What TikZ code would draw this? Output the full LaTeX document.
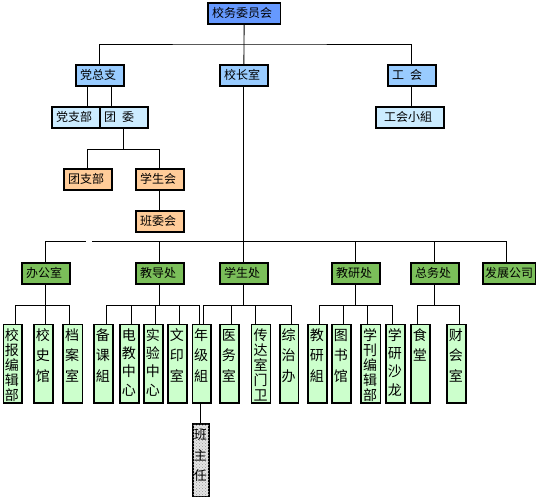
\documentclass[tikz,border=0pt]{standalone}
\usepackage{fontspec}
\newfontfamily\cjk{Noto Sans CJK SC}
\usetikzlibrary{patterns}
\definecolor{cTop}{HTML}{6699FF}
\definecolor{cMid}{HTML}{99CCFF}
\definecolor{cLow}{HTML}{CCECFF}
\definecolor{cOrg}{HTML}{FFCC99}
\definecolor{cGrn}{HTML}{7BBF5A}
\definecolor{cPale}{HTML}{CCFFCC}
\newcommand\vcol[5]{%
  \node[vb,minimum width=#3pt] (#1) at (#2,324) {};
  \foreach \c [count=\i] in {#5} {\node[ch] (#1-\i) at ({#2+#3/2},{335+(\i-1)*#4+5.3}) {\c};}
}
\begin{document}
\begin{tikzpicture}[x=1pt,y=-1pt,
  hb/.style={draw=black,line width=1.2pt,inner sep=0pt,minimum height=21pt,minimum width=48pt,
    text width=39.6pt,align=left,anchor=north west,font=\cjk\fontsize{12}{12}\selectfont,
    text height=10.56pt,text depth=1.44pt},
  ln/.style={line width=0.9pt,draw=black},
  vb/.style={draw=black,line width=1.2pt,fill=cPale,inner sep=0pt,minimum height=78.3pt,anchor=north west},
  ch/.style={inner sep=0pt,anchor=base,font=\cjk\fontsize{14}{14}\selectfont},
  chs/.style={inner sep=0pt,anchor=base,font=\cjk\fontsize{13}{13}\selectfont},
]
\useasboundingbox (0,0) rectangle (538,499);

% level 1-4
\node[hb,fill=cTop,minimum width=72.4pt,text width=64pt] (xw) at (207.3,2.3) {校务委员会};
\node[hb,fill=cMid] (dzz) at (75.3,64.3) {党总支};
\node[hb,fill=cMid] (xzs) at (219.3,64.3) {校长室};
\node[hb,fill=cMid] (gh) at (387.3,64.3) {工\hspace{6pt}会};
\node[hb,fill=cLow] (dzb) at (51.3,106.3) {党支部};
\node[hb,fill=cLow] (tw) at (99.3,106.3) {团\hspace{6pt}委};
\node[hb,fill=cLow,minimum width=68pt,text width=51.8pt] (ghx) at (375.3,106.3) {工会小組};
\node[hb,fill=cOrg] (tzb) at (63.3,168.3) {团支部};
\node[hb,fill=cOrg] (xsh) at (135.3,168.3) {学生会};
\node[hb,fill=cOrg] (bwh) at (135.3,210.3) {班委会};

% level 5
\node[hb,fill=cGrn] (bgs) at (21.3,262.3) {办公室};
\node[hb,fill=cGrn] (jdc) at (135.3,262.3) {教导处};
\node[hb,fill=cGrn] (xsc) at (219.3,262.3) {学生处};
\node[hb,fill=cGrn] (jyc) at (331.3,262.3) {教研处};
\node[hb,fill=cGrn] (zwc) at (410.3,262.3) {总务处};
\node[hb,fill=cGrn,minimum width=52.4pt,text width=48.2pt] (fzgs) at (482.3,262.3) {发展公司};

% level 6
\vcol{xbb}{2.7}{18.6}{15}{校,报,编,辑,部}
\vcol{xsg}{33.3}{19}{20.5}{校,史,馆}
\vcol{das}{62.3}{19.4}{20.5}{档,案,室}
\vcol{bkz}{93.3}{19}{20.5}{备,课,組}
\vcol{djzx}{119.3}{19}{18.3}{电,教,中,心}
\vcol{syzx}{143.3}{19}{18.3}{实,验,中,心}
\vcol{wys}{167.3}{19}{20.5}{文,印,室}
\vcol{njz}{191.7}{18.6}{20.5}{年,级,組}
\vcol{yws}{219.3}{19}{20.5}{医,务,室}
\vcol{cds}{251}{19}{15}{传,达,室,门,卫}
\vcol{zzb}{279.3}{18.7}{20.5}{综,治,办}
\vcol{jyz}{307.3}{19}{20.5}{教,研,組}
\vcol{tsg}{331.3}{19}{20.5}{图,书,馆}
\vcol{xkb}{360.3}{19.4}{15}{学,刊,编,辑,部}
\vcol{xysl}{385.3}{19}{18.3}{学,研,沙,龙}
\vcol{st}{410.3}{19}{20.5}{食,堂}
\vcol{cks}{446.3}{19}{20.5}{财,会,室}

% level 7
\node[draw=black,line width=1.2pt,inner sep=0pt,minimum width=16pt,minimum height=72.7pt,anchor=north west,
  fill=gray!20,postaction={pattern=crosshatch dots,pattern color=gray!80}] (bzr) at (192.3,423.3) {};
\foreach \c [count=\i] in {班,主,任} {\node[chs] (bzr-\i) at (200.3,{435+(\i-1)*20.5+4.9}) {\c};}

% connectors top
\draw[ln] (xw.south) -- (xzs.north);
\draw[ln] (dzz.north) |- (xw.south |- 0,44) -| (gh.north);
\draw[ln] ([xshift=-12pt]dzz.south) -- ([xshift=-12pt]dzz.south |- dzb.north);
\draw[ln] ([xshift=12pt]dzz.south) -- ([xshift=12pt]dzz.south |- tw.north);
\draw[ln] (gh.south) -- (gh.south |- ghx.north);
\draw[ln] (tw.south) -- ++(0,20.7) coordinate (tb) -| (tzb.north);
\draw[ln] (tb) -| (xsh.north);
\draw[ln] (xsh.south) -- (bwh.north);

% main bus
\draw[ln] (xzs.south) -- (xsc.north);
\coordinate (gapl) at (86,241.3);
\coordinate (gapr) at (92,241.3);
\draw[ln] (bgs.north) |- (gapl);
\draw[ln] (gapr) -| ([xshift=-2.2pt]fzgs.north);
\draw[ln] (jdc.north) -- (jdc.north |- gapr);
\draw[ln] (jyc.north) -- (jyc.north |- gapr);
\draw[ln] (zwc.north) -- (zwc.north |- gapr);

% sub buses
\draw[ln] (bgs.south) -- ++(0,21) coordinate (s1);
\draw[ln] (s1) -| ([xshift=2.7pt]xbb.north);
\draw[ln] (s1) -| ([xshift=2.5pt]xsg.north);
\draw[ln] (s1) -| ([xshift=-2.7pt]das.north);

\draw[ln] (jdc.south) -- ++(0,21) coordinate (s2);
\draw[ln] (s2) -| ([xshift=2.9pt]bkz.north);
\draw[ln] (s2) -| ([xshift=2.5pt]djzx.north);
\draw[ln] (s2) -| ([xshift=2.5pt]syzx.north);
\draw[ln] (s2) -| ([xshift=2.5pt]wys.north);
\draw[ln] (s2) -| ([xshift=-2.3pt]njz.north);

\draw[ln] (xsc.south) -- ++(0,21) coordinate (s3);
\draw[ln] (s3) -| ([xshift=2.3pt]njz.north);
\draw[ln] (s3) -| ([xshift=2.5pt]yws.north);
\draw[ln] (s3) -| ([xshift=-5.2pt]cds.north);
\draw[ln] (s3) -| ([xshift=2.6pt]zzb.north);

\draw[ln] (jyc.south) -- ++(0,21) coordinate (s4);
\draw[ln] (s4) -| ([xshift=2.5pt]jyz.north);
\draw[ln] (s4) -| ([xshift=2.5pt]tsg.north);
\draw[ln] (s4) -| ([xshift=-2.7pt]xkb.north);
\draw[ln] (s4) -| ([xshift=-2.5pt]xysl.north);

\draw[ln] (zwc.south) -- ++(0,21) coordinate (s5);
\draw[ln] (s5) -| ([xshift=-2.5pt]st.north);
\draw[ln] (s5) -| ([xshift=2.9pt]cks.north);

\draw[ln] (bzr.north) -- (bzr.north |- njz.south);
\end{tikzpicture}
\end{document}
